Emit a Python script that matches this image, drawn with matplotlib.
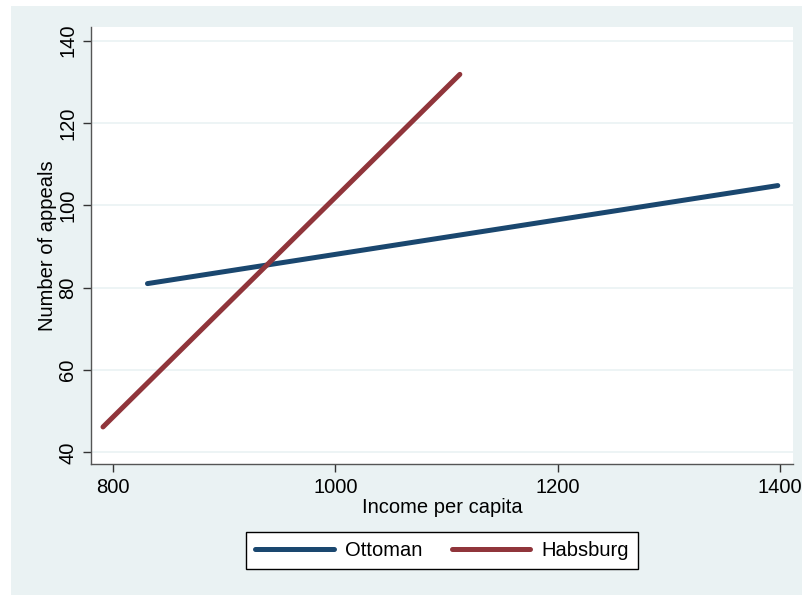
import matplotlib
matplotlib.use("Agg")
import matplotlib.pyplot as plt
from matplotlib.patches import Rectangle

# fitted lines (income per capita -> number of appeals)
ottoman_x = [831, 1398]
ottoman_y = [81.0, 104.8]
habsburg_x = [791, 1112]
habsburg_y = [46.2, 131.8]

x_ticks = [800, 1000, 1200, 1400]
y_ticks = [40, 60, 80, 100, 120, 140]

plt.rcParams["font.family"] = ["Liberation Sans", "DejaVu Sans"]

bg = "#eaf2f3"
fs = 14.5
fig = plt.figure(figsize=(8.03, 5.95), dpi=100)
fig.patch.set_facecolor("white")
fig.add_artist(Rectangle((11 / 803, 0), 1 - 11 / 803, 1 - 6 / 595,
                         transform=fig.transFigure, facecolor=bg,
                         edgecolor="none", zorder=-10))

ax = fig.add_axes([91 / 803, 1 - 464 / 595, (793 - 91) / 803, (464 - 27) / 595])
ax.set_zorder(1)
ax.set_facecolor("white")

l1, = ax.plot(ottoman_x, ottoman_y, color="#1a476f", lw=3.6, solid_capstyle="round", label="Ottoman")
l2, = ax.plot(habsburg_x, habsburg_y, color="#90353b", lw=3.6, solid_capstyle="round", label="Habsburg")

ax.set_xlim(780.2, 1411.7)
ax.set_ylim(37.2, 143.3)
ax.set_xticks(x_ticks)
ax.set_yticks(y_ticks)
ax.set_yticklabels([str(v) for v in y_ticks], rotation=90, va="center")
ax.tick_params(labelsize=fs, length=6, width=1, color="#333333", pad=4)
ax.grid(axis="y", color=bg, lw=1.2)
ax.set_axisbelow(True)

for s in ["top", "right"]:
    ax.spines[s].set_visible(False)
for s in ["left", "bottom"]:
    ax.spines[s].set_color("#555555")
    ax.spines[s].set_linewidth(1)

ax.set_xlabel("Income per capita", fontsize=fs, labelpad=1)
ax.set_ylabel("Number of appeals", fontsize=fs, labelpad=1)

leg = fig.legend(handles=[l1, l2], loc="upper center",
                 bbox_to_anchor=(442 / 803, 1 - 532 / 595), ncol=2,
                 frameon=True, fancybox=False, edgecolor="black",
                 facecolor="white", framealpha=1, fontsize=fs,
                 handlelength=3.9, columnspacing=1.45,
                 borderpad=0.45, handletextpad=0.55, borderaxespad=0)
leg.get_frame().set_linewidth(1)

fig.savefig("out.png", dpi=100, facecolor=fig.get_facecolor())
